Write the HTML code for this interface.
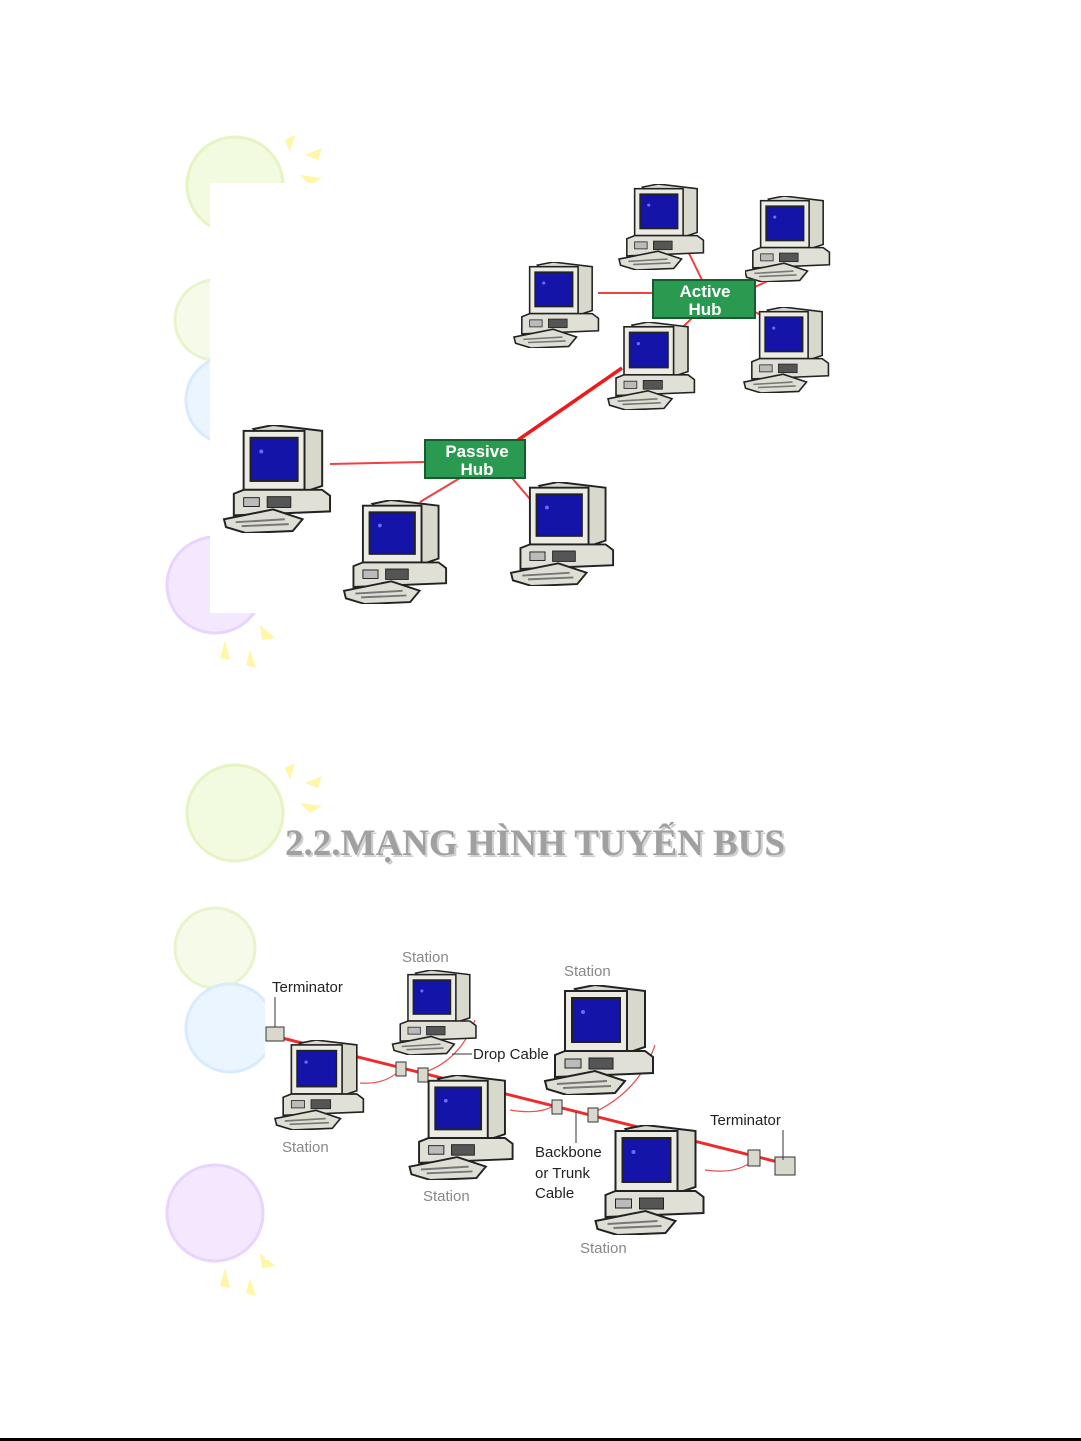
<!DOCTYPE html>
<html><head><meta charset="utf-8"><style>
html,body{margin:0;padding:0;background:#fff;}
svg{display:block;}
</style></head><body>
<svg width="1081" height="1441" viewBox="0 0 1081 1441" xmlns="http://www.w3.org/2000/svg" font-family="Liberation Sans, sans-serif">
<defs>
<symbol id="pc" viewBox="0 0 110 110">
  <polygon points="30,4 50,0 100,6 100,62 82,68" fill="#d8d8cc" stroke="#222" stroke-width="2"/>
  <rect x="20" y="6" width="62" height="60" fill="#ecece4" stroke="#222" stroke-width="2"/>
  <rect x="27" y="13" width="48" height="44" fill="#1414a8" stroke="#222" stroke-width="2"/>
  <circle cx="38" cy="27" r="2" fill="#6a6aff"/>
  <polygon points="10,70 20,66 100,66 108,72 108,88 10,92" fill="#e0e0d6" stroke="#222" stroke-width="2"/>
  <rect x="20" y="74" width="16" height="9" fill="#bbb" stroke="#222"/>
  <rect x="44" y="73" width="24" height="11" fill="#555" stroke="#222"/>
  <polygon points="0,96 50,86 80,96 70,108 22,110 2,104" fill="#deded4" stroke="#222" stroke-width="2"/>
  <line x1="12" y1="99" x2="62" y2="96" stroke="#777" stroke-width="2"/>
  <line x1="18" y1="103" x2="66" y2="101" stroke="#777" stroke-width="2"/>
</symbol>
<symbol id="balls">
  <circle cx="235" cy="185" r="48" fill="#f2fadf" stroke="#e6f4c4" stroke-width="3"/>
  <circle cx="215" cy="320" r="40" fill="#f5fbe8" stroke="#e8f4cc" stroke-width="3"/>
  <circle cx="230" cy="400" r="44" fill="#ebf5ff" stroke="#d8eaff" stroke-width="3"/>
  <circle cx="215" cy="585" r="48" fill="#f4e8ff" stroke="#e8d4ff" stroke-width="3"/>
  <polygon points="285,140 295,135 290,152" fill="#fff6a8"/>
  <polygon points="305,155 322,148 318,160" fill="#fff6a8"/>
  <polygon points="300,175 322,178 310,185" fill="#fff6a8"/>
  <polygon points="260,625 275,638 262,640" fill="#fff6a8"/>
  <polygon points="225,640 230,660 220,658" fill="#fff6a8"/>
  <polygon points="250,650 256,668 246,665" fill="#fff6a8"/>
</symbol>
</defs>

<use href="#balls"/>
<rect x="210" y="183" width="430" height="430" fill="#fff"/>

<g stroke="#f04040" stroke-width="2" fill="none">
  <line x1="330" y1="464" x2="425" y2="462"/>
  <line x1="420" y1="502" x2="460" y2="478"/>
  <line x1="512" y1="478" x2="535" y2="505"/>
  <line x1="598" y1="293" x2="653" y2="293"/>
  <line x1="685" y1="245" x2="702" y2="280"/>
  <line x1="780" y1="275" x2="755" y2="287"/>
  <line x1="755" y1="312" x2="775" y2="322"/>
  <line x1="680" y1="330" x2="692" y2="318"/>
</g>
<line x1="518" y1="440" x2="622" y2="368" stroke="#ee1a1a" stroke-width="3.5"/>

<use href="#pc" x="222" y="425" width="112" height="108"/>
<use href="#pc" x="340" y="500" width="112" height="104"/>
<use href="#pc" x="508" y="482" width="110" height="104"/>
<use href="#pc" x="512" y="262" width="90" height="86"/>
<use href="#pc" x="617" y="184" width="90" height="86"/>
<use href="#pc" x="745" y="196" width="86" height="86"/>
<use href="#pc" x="742" y="307" width="90" height="86"/>
<use href="#pc" x="607" y="322" width="90" height="88"/>

<rect x="653" y="280" width="102" height="38" fill="#2a9a50" stroke="#1a5a30" stroke-width="2"/>
<text x="705" y="297" font-size="17" font-weight="bold" fill="#fff" text-anchor="middle">Active</text>
<text x="705" y="315" font-size="17" font-weight="bold" fill="#fff" text-anchor="middle">Hub</text>
<rect x="425" y="440" width="100" height="38" fill="#2a9a50" stroke="#1a5a30" stroke-width="2"/>
<text x="477" y="457" font-size="17" font-weight="bold" fill="#fff" text-anchor="middle">Passive</text>
<text x="477" y="475" font-size="17" font-weight="bold" fill="#fff" text-anchor="middle">Hub</text>

<use href="#balls" y="628"/>
<rect x="265" y="930" width="545" height="330" fill="#fff"/>

<text x="287" y="857" fill="#d0d0d0" style="font-family:'Liberation Serif',serif;font-size:37px;font-weight:bold" textLength="500" lengthAdjust="spacingAndGlyphs">2.2.MẠNG HÌNH TUYẾN  BUS</text>
<text x="285" y="855" fill="#a0a0a0" style="font-family:'Liberation Serif',serif;font-size:37px;font-weight:bold" textLength="500" lengthAdjust="spacingAndGlyphs">2.2.MẠNG HÌNH TUYẾN  BUS</text>

<line x1="270" y1="1035" x2="790" y2="1165" stroke="#ee2a2a" stroke-width="3"/>
<g stroke="#e85050" stroke-width="1.2" fill="none">
  <path d="M360,1083 Q385,1085 400,1070"/>
  <path d="M425,1072 Q460,1060 475,1020"/>
  <path d="M510,1110 Q540,1115 555,1105"/>
  <path d="M595,1112 Q640,1090 655,1045"/>
  <path d="M705,1170 Q740,1175 755,1158"/>
</g>
<g fill="#d8d8cc" stroke="#333">
  <rect x="266" y="1027" width="18" height="14"/>
  <rect x="396" y="1062" width="10" height="14"/>
  <rect x="418" y="1068" width="10" height="14"/>
  <rect x="552" y="1100" width="10" height="14"/>
  <rect x="588" y="1108" width="10" height="14"/>
  <rect x="748" y="1150" width="12" height="16"/>
  <rect x="775" y="1157" width="20" height="18"/>
</g>
<use href="#pc" x="270" y="1040" width="100" height="90"/>
<use href="#pc" x="390" y="970" width="90" height="85"/>
<use href="#pc" x="402" y="1075" width="120" height="105"/>
<use href="#pc" x="540" y="985" width="120" height="110"/>
<use href="#pc" x="588" y="1125" width="125" height="110"/>

<g font-size="15" fill="#222">
  <text x="272" y="992">Terminator</text>
  <line x1="275" y1="997" x2="275" y2="1027" stroke="#333"/>
  <text x="473" y="1059">Drop Cable</text>
  <line x1="452" y1="1054" x2="472" y2="1054" stroke="#333"/>
  <text x="535" y="1157">Backbone</text>
  <text x="535" y="1178">or Trunk</text>
  <text x="535" y="1198">Cable</text>
  <line x1="576" y1="1112" x2="576" y2="1143" stroke="#333"/>
  <text x="710" y="1125">Terminator</text>
  <line x1="783" y1="1130" x2="783" y2="1160" stroke="#333"/>
</g>
<g font-size="15" fill="#888">
  <text x="402" y="962">Station</text>
  <text x="564" y="976">Station</text>
  <text x="282" y="1152">Station</text>
  <text x="423" y="1201">Station</text>
  <text x="580" y="1253">Station</text>
</g>
<rect x="0" y="1438" width="1081" height="3" fill="#000"/>
</svg>
</body></html>
